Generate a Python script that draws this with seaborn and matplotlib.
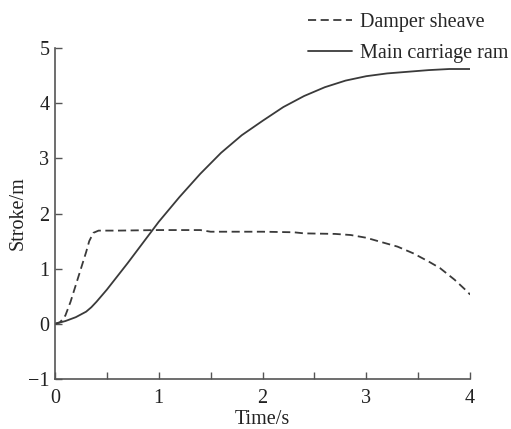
import matplotlib
matplotlib.use("Agg")
import matplotlib.pyplot as plt
import seaborn as sns
import pandas as pd

t_damper = [0, 0.05, 0.1, 0.15, 0.2, 0.25, 0.3, 0.33, 0.37, 0.42, 0.6, 1.0, 1.4, 1.5, 2.0, 2.3, 2.4, 2.7, 2.85, 3.0, 3.13, 3.3, 3.45, 3.6, 3.71, 3.85, 3.97, 4.0]
s_damper = [0, 0.03, 0.15, 0.4, 0.7, 1.0, 1.3, 1.5, 1.65, 1.69, 1.69, 1.7, 1.7, 1.67, 1.67, 1.66, 1.64, 1.63, 1.61, 1.56, 1.49, 1.4, 1.28, 1.13, 1.01, 0.8, 0.59, 0.53]

t_ram = [0, 0.1, 0.2, 0.3, 0.35, 0.4, 0.5, 0.6, 0.7, 0.8, 0.9, 1.0, 1.2, 1.4, 1.6, 1.8, 2.0, 2.2, 2.4, 2.6, 2.8, 3.0, 3.2, 3.4, 3.6, 3.8, 4.0]
s_ram = [0, 0.05, 0.12, 0.22, 0.3, 0.4, 0.62, 0.86, 1.1, 1.35, 1.6, 1.85, 2.3, 2.72, 3.1, 3.42, 3.68, 3.93, 4.13, 4.29, 4.41, 4.49, 4.54, 4.57, 4.6, 4.62, 4.62]

labels = ["Damper sheave", "Main carriage ram"]
x_ticks = [0, 1, 2, 3, 4]
x_minor = [0.5, 1.5, 2.5, 3.5]
y_ticks = [-1, 0, 1, 2, 3, 4, 5]
y_ticklabels = ["\u22121", "0", "1", "2", "3", "4", "5"]

sns.set_theme(style="ticks")
plt.rcParams['font.family'] = ['Liberation Serif', 'DejaVu Serif']

fig = plt.figure(figsize=(5.11, 4.29), dpi=100)
ax = fig.add_axes([0.1076, 0.1166, 0.8124, 0.7714])

df_d = pd.DataFrame({"t": t_damper, "s": s_damper})
df_r = pd.DataFrame({"t": t_ram, "s": s_ram})
lc = "#3a3a3a"
sns.lineplot(data=df_d, x="t", y="s", ax=ax, color=lc, linestyle=(0, (4.5, 2.5)), lw=1.3, label=labels[0], legend=False)
sns.lineplot(data=df_r, x="t", y="s", ax=ax, color=lc, linestyle="-", lw=1.3, label=labels[1], legend=False)

ax.set_xlim(0, 4)
ax.set_ylim(-1, 5)
ax.set_xticks(x_ticks)
ax.set_xticklabels([str(v) for v in x_ticks])
ax.set_xticks(x_minor, minor=True)
ax.set_yticks(y_ticks)
ax.set_yticklabels(y_ticklabels)
for sp in ["top", "right"]:
    ax.spines[sp].set_visible(False)
for sp in ["left", "bottom"]:
    ax.spines[sp].set_color("#555555")
    ax.spines[sp].set_linewidth(1.2)
ax.tick_params(axis="both", which="both", direction="in", colors="#555555", labelcolor="#222222", labelsize=14.5, width=1)
ax.tick_params(axis="x", which="major", length=5, pad=7)
ax.tick_params(axis="y", which="major", length=5, pad=4)
ax.tick_params(axis="x", which="minor", length=5)
ax.set_xlabel("Time/s", fontsize=14.5, color="#222222", labelpad=2)
ax.set_ylabel("Stroke/m", fontsize=14.5, color="#222222", labelpad=0)

h, l = ax.get_legend_handles_labels()
fig.legend(h, l, loc="upper left", bbox_to_anchor=(0.587, 0.988), frameon=False,
           fontsize=14.5, handlelength=2.2, handletextpad=0.4, labelspacing=0.6, borderaxespad=0)

fig.savefig("out.png", dpi=100)
